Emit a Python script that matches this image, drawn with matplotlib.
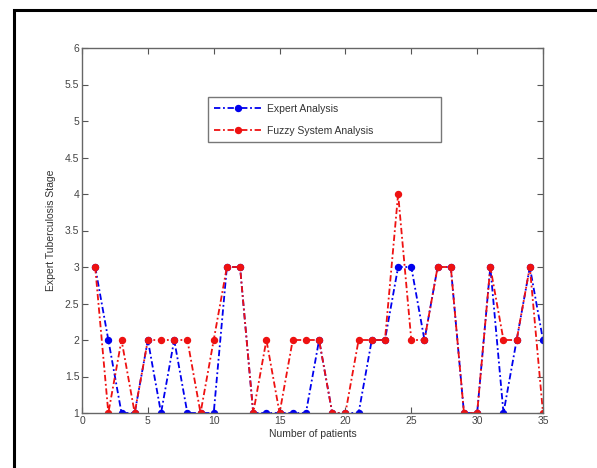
import matplotlib
matplotlib.use("Agg")
import matplotlib.pyplot as plt
from matplotlib.patches import Rectangle

# patient index 1..35
patients = list(range(1, 36))
expert = [3, 2, 1, 1, 2, 1, 2, 1, 1, 1, 3, 3, 1, 1, 1, 1, 1, 2, 1, 1,
          1, 2, 2, 3, 3, 2, 3, 3, 1, 1, 3, 1, 2, 3, 2]
fuzzy = [3, 1, 2, 1, 2, 2, 2, 2, 1, 2, 3, 3, 1, 2, 1, 2, 2, 2, 1, 1,
         2, 2, 2, 4, 2, 2, 3, 3, 1, 1, 3, 2, 2, 3, 1]
x_ticks = [0, 5, 10, 15, 20, 25, 30, 35]
y_ticks = [1, 1.5, 2, 2.5, 3, 3.5, 4, 4.5, 5, 5.5, 6]
y_tick_labels = ["1", "1.5", "2", "2.5", "3", "3.5", "4", "4.5", "5", "5.5", "6"]

plt.rcParams["font.family"] = ["Liberation Sans", "DejaVu Sans"]

fig = plt.figure(figsize=(5.97, 4.68), dpi=100)

# outer black frame (only top/left visible in the original crop)
fig.patches.append(Rectangle((13.5 / 597, -0.05), 1.0, 1 - 9.5 / 468 + 0.05,
                             transform=fig.transFigure, fill=False,
                             edgecolor="black", linewidth=2.2, zorder=0))

ax = fig.add_axes([82 / 597, 1 - 413 / 468, 461 / 597, 365 / 468])

dashdot = (0, (3.5, 1.5, 1, 1.5))
ax.plot(patients, expert, color="#0000ee", linestyle=dashdot, linewidth=1.3,
        marker="o", markersize=4.3, label="Expert Analysis")
ax.plot(patients, fuzzy, color="#ee1111", linestyle=dashdot, linewidth=1.3,
        marker="o", markersize=4.3, label="Fuzzy System Analysis")

ax.set_xlim(0, 35)
ax.set_ylim(1, 6)
ax.set_xticks(x_ticks)
ax.set_yticks(y_ticks)
ax.set_yticklabels(y_tick_labels)
ax.tick_params(direction="in", top=True, right=True, length=4,
               labelsize=7.5, colors="#555555", labelcolor="#444444", pad=2)
for sp in ax.spines.values():
    sp.set_color("#666666")
    sp.set_linewidth(1.0)

ax.set_xlabel("Number of patients", fontsize=7.5, color="#333333", labelpad=2)
ax.set_ylabel("Expert Tuberculosis Stage", fontsize=7.5, color="#333333", labelpad=6)

leg = ax.legend(loc="upper left", bbox_to_anchor=(0.262, 0.767, 0.528, 0.112),
                mode="expand", fontsize=7.5, frameon=True, fancybox=False,
                numpoints=1, handlelength=4.5, borderpad=0.6, labelspacing=1.2,
                handletextpad=0.6)
leg.get_frame().set_edgecolor("#555555")
leg.get_frame().set_linewidth(1.0)
for t in leg.get_texts():
    t.set_color("#333333")

fig.savefig("out.png", dpi=100)
